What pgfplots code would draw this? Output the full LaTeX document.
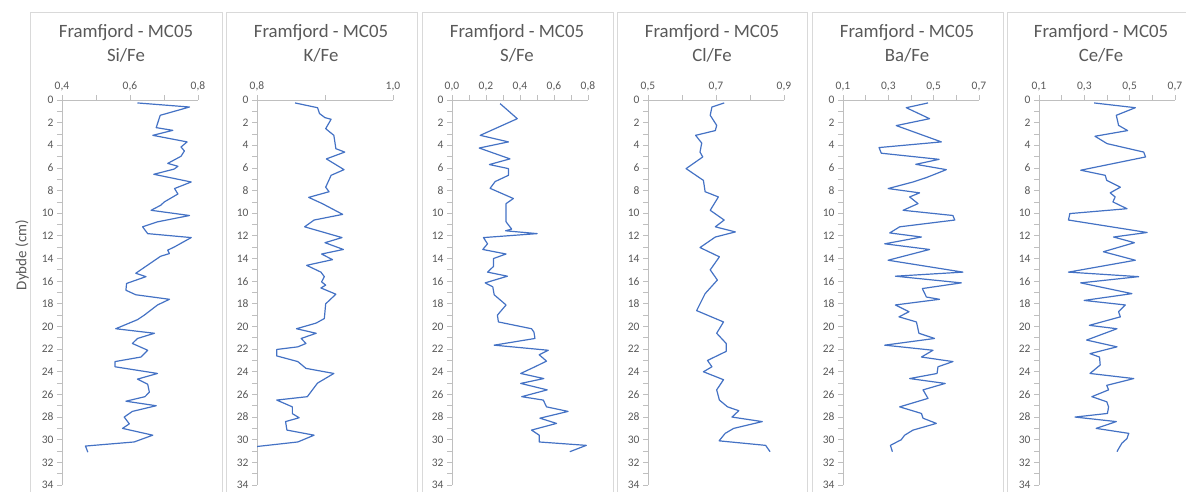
\documentclass[border=0pt]{standalone}
\usepackage{fontspec}
\setmainfont{Carlito}
\usepackage{pgfplots}
\pgfplotsset{compat=1.18}
\definecolor{lineblue}{HTML}{4472C4}
\definecolor{axgray}{HTML}{BFBFBF}
\definecolor{txtgray}{HTML}{595959}
\definecolor{bordergray}{HTML}{D9D9D9}
\pgfplotsset{
 panel/.style={
  scale only axis, width=136pt, height=385pt, anchor=south west,
  y dir=reverse, ymin=0, ymax=34,
  ytick={0,2,...,34}, minor ytick={1,3,...,33},
  axis x line=top, axis y line=left,
  axis line style={draw=axgray, line width=0.8pt, -},
  every outer x axis line/.append style={-},
  every outer y axis line/.append style={-},
  tick align=outside,
  major tick length=5pt, minor tick length=5pt,
  every tick/.append style={draw=axgray, line width=0.8pt},
  every minor tick/.append style={draw=axgray, line width=0.8pt},
  ticklabel style={font=\fontsize{11.5}{13}\selectfont, text=txtgray},
  xticklabel style={/pgf/number format/.cd, fixed, fixed zerofill, precision=1, use comma, assume math mode=true},
  yticklabel style={/pgf/number format/assume math mode=true},
  clip=true,
 },
 ser/.style={draw=lineblue, line width=1.2pt, mark=none, line join=round},
}
\newcommand{\paneltitle}[2]{%
  \node[anchor=base, font=\fontsize{18.8}{20}\selectfont, text=txtgray] at (#1pt,454.5pt) {Framfjord - MC05};
  \node[anchor=base, font=\fontsize{18.8}{20}\selectfont, text=txtgray] at (#1pt,430pt) {#2};
}
\begin{document}
\begin{tikzpicture}
\path[use as bounding box] (0,0) rectangle (1186pt,492pt);
% panel frames
\foreach \l/\r in {30/222,226/417,422/613,617/807,812/1003,1007/1200}{
  \draw[bordergray, line width=0.8pt] (\l pt,-10pt) -- (\l pt,480pt) -- (\r pt,480pt) -- (\r pt,-10pt);
}
\paneltitle{126}{Si/Fe}
\paneltitle{321}{K/Fe}
\paneltitle{517}{S/Fe}
\paneltitle{712}{Cl/Fe}
\paneltitle{907}{Ba/Fe}
\paneltitle{1101}{Ce/Fe}
\node[rotate=90, font=\fontsize{15}{17}\selectfont, text=txtgray] at (22pt,237pt) {Dybde (cm)};

% Si/Fe
\begin{axis}[panel, at={(62pt,7pt)}, xmin=0.4, xmax=0.8, xtick={0.4,0.6,0.8}, minor xtick={0.5,0.7}]
\addplot[ser] table[x=v,y=d] {
v d
0.622 0.26
0.775 0.62
0.689 1.35
0.677 2.44
0.726 2.68
0.667 3.12
0.768 3.70
0.750 4.15
0.760 4.50
0.750 4.97
0.711 5.60
0.741 5.85
0.730 6.10
0.670 6.56
0.780 7.24
0.731 7.82
0.741 8.30
0.701 9.00
0.690 9.30
0.662 9.74
0.775 10.20
0.681 10.76
0.637 11.20
0.652 11.80
0.780 12.15
0.731 12.97
0.711 13.26
0.716 13.56
0.690 13.80
0.617 15.30
0.647 15.60
0.590 16.20
0.588 16.80
0.617 17.20
0.716 17.60
0.681 18.10
0.642 19.00
0.622 19.40
0.558 20.20
0.672 20.60
0.622 21.06
0.607 21.50
0.652 22.10
0.632 22.70
0.556 23.10
0.556 23.56
0.681 24.15
0.622 24.65
0.652 25.10
0.657 25.80
0.644 26.20
0.588 26.60
0.677 27.00
0.607 27.50
0.583 28.00
0.598 28.60
0.578 29.00
0.667 29.60
0.612 30.20
0.469 30.56
0.476 31.10
};
\end{axis}

% K/Fe
\begin{axis}[panel, at={(257pt,7pt)}, xmin=0.8, xmax=1.0, xtick={0.8,1.0}, minor xtick={0.9}]
\addplot[ser] table[x=v,y=d] {
v d
0.856 0.26
0.889 0.68
0.892 1.20
0.900 1.56
0.909 1.70
0.901 2.53
0.913 3.12
0.916 4.30
0.929 4.60
0.902 5.20
0.928 6.15
0.909 6.65
0.901 7.70
0.906 8.10
0.876 8.60
0.896 9.15
0.926 10.10
0.884 10.60
0.870 11.20
0.925 12.15
0.900 12.60
0.927 13.20
0.895 13.60
0.911 14.10
0.873 14.60
0.894 15.20
0.899 15.60
0.895 16.06
0.901 16.35
0.894 16.60
0.916 17.15
0.901 18.00
0.899 19.30
0.887 19.70
0.858 20.20
0.887 20.60
0.865 21.06
0.872 21.50
0.860 21.80
0.829 22.03
0.829 22.60
0.860 23.10
0.872 23.70
0.913 24.15
0.889 25.00
0.874 26.20
0.829 26.50
0.852 27.10
0.852 27.70
0.862 28.06
0.842 28.40
0.844 29.15
0.884 29.60
0.860 30.20
0.800 30.60
0.790 31.10
};
\end{axis}

% S/Fe
\begin{axis}[panel, at={(452pt,7pt)}, xmin=0, xmax=0.8, xtick={0,0.2,0.4,0.6,0.8}, minor xtick={0.1,0.3,0.5,0.7}]
\addplot[ser] table[x=v,y=d] {
v d
0.283 0.32
0.384 1.65
0.166 3.12
0.332 3.70
0.160 4.24
0.341 5.20
0.220 5.70
0.332 6.06
0.332 6.65
0.254 7.20
0.224 7.80
0.361 8.70
0.318 9.15
0.318 10.76
0.351 11.40
0.315 11.55
0.501 11.80
0.185 12.15
0.209 12.70
0.181 13.20
0.318 13.60
0.244 14.00
0.244 14.70
0.209 15.20
0.326 15.56
0.195 16.15
0.240 16.50
0.248 17.20
0.318 18.10
0.267 19.00
0.273 19.60
0.468 20.20
0.482 20.50
0.488 21.06
0.248 21.65
0.566 22.10
0.513 22.50
0.556 23.06
0.488 23.56
0.404 24.15
0.540 24.60
0.404 25.03
0.560 25.60
0.410 26.20
0.537 26.50
0.556 27.10
0.683 27.50
0.517 28.10
0.615 28.56
0.468 29.15
0.513 29.60
0.513 30.20
0.790 30.50
0.693 31.06
};
\end{axis}

% Cl/Fe
\begin{axis}[panel, at={(648pt,7pt)}, xmin=0.5, xmax=0.9, xtick={0.5,0.7,0.9}, minor xtick={0.6,0.8}]
\addplot[ser] table[x=v,y=d] {
v d
0.724 0.26
0.688 0.62
0.683 1.35
0.702 2.24
0.698 2.70
0.640 3.12
0.658 3.80
0.653 4.60
0.661 5.03
0.612 6.06
0.663 7.10
0.668 8.10
0.707 8.56
0.683 9.74
0.724 10.60
0.698 11.20
0.757 11.65
0.698 12.10
0.653 13.03
0.710 13.85
0.683 15.00
0.704 15.90
0.668 17.10
0.643 18.60
0.722 19.60
0.702 20.60
0.730 21.50
0.730 22.20
0.675 23.00
0.688 23.56
0.663 24.00
0.722 24.70
0.702 25.60
0.710 26.50
0.734 27.10
0.767 27.44
0.747 28.00
0.836 28.40
0.752 29.00
0.727 29.44
0.709 30.10
0.846 30.50
0.859 31.06
};
\end{axis}

% Ba/Fe
\begin{axis}[panel, at={(843pt,7pt)}, xmin=0.1, xmax=0.7, xtick={0.1,0.3,0.5,0.7}, minor xtick={0.2,0.4,0.6}]
\addplot[ser] table[x=v,y=d] {
v d
0.475 0.26
0.379 0.68
0.482 1.65
0.335 2.26
0.534 3.70
0.259 4.20
0.269 4.70
0.524 5.24
0.421 5.68
0.556 6.15
0.468 6.85
0.409 7.24
0.299 7.82
0.438 8.20
0.394 8.56
0.431 9.15
0.365 9.74
0.585 10.20
0.593 10.60
0.350 11.20
0.306 11.74
0.446 12.10
0.284 12.70
0.482 13.20
0.299 14.15
0.629 15.20
0.331 15.56
0.622 16.15
0.450 16.65
0.468 17.40
0.526 17.60
0.331 18.10
0.391 18.70
0.347 19.15
0.424 19.60
0.435 20.60
0.504 21.06
0.284 21.65
0.497 22.10
0.446 22.70
0.585 23.10
0.519 23.56
0.515 24.15
0.394 24.60
0.551 25.03
0.453 25.60
0.475 26.35
0.350 27.10
0.446 27.68
0.453 28.10
0.512 28.56
0.409 29.15
0.372 29.60
0.357 30.00
0.309 30.50
0.318 31.06
};
\end{axis}

% Ce/Fe
\begin{axis}[panel, at={(1039pt,7pt)}, xmin=0.1, xmax=0.7, xtick={0.1,0.3,0.5,0.7}, minor xtick={0.2,0.4,0.6}]
\addplot[ser] table[x=v,y=d] {
v d
0.343 0.26
0.525 0.68
0.441 1.35
0.451 2.24
0.491 2.70
0.347 3.20
0.400 3.85
0.562 4.60
0.570 5.03
0.284 6.20
0.392 6.65
0.399 7.10
0.459 7.70
0.414 8.20
0.436 8.56
0.426 9.00
0.488 9.60
0.236 10.03
0.230 10.60
0.577 11.70
0.429 12.10
0.521 12.60
0.384 13.40
0.525 14.15
0.230 15.20
0.540 15.60
0.284 16.15
0.510 17.10
0.299 17.70
0.481 18.10
0.451 18.70
0.459 19.15
0.322 19.90
0.444 20.20
0.310 21.20
0.444 21.80
0.325 22.40
0.367 22.70
0.370 23.40
0.325 24.15
0.518 24.60
0.399 25.20
0.407 25.60
0.333 26.20
0.399 26.65
0.407 27.10
0.402 27.68
0.259 28.00
0.441 28.40
0.352 29.00
0.496 29.44
0.488 29.90
0.466 30.30
0.451 30.80
0.444 31.06
};
\end{axis}
\end{tikzpicture}
\end{document}
